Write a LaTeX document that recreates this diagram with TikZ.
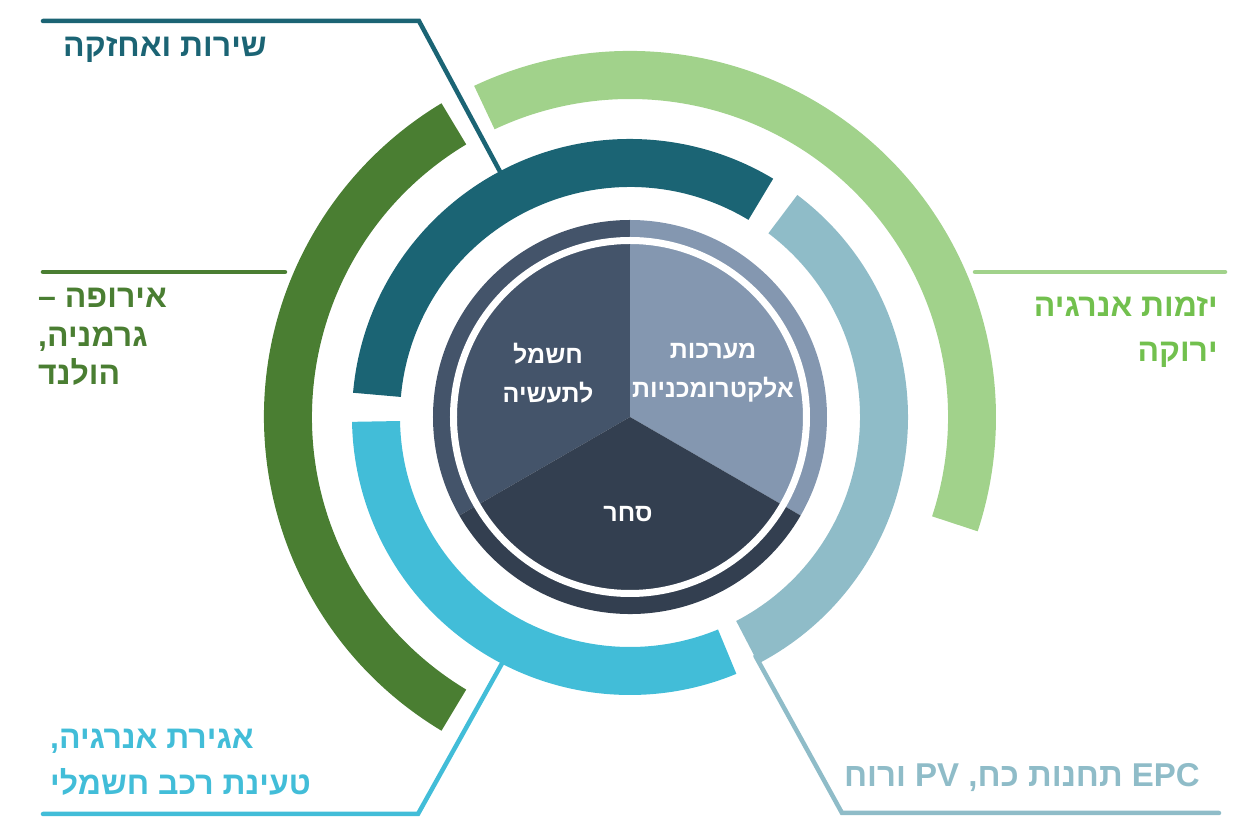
\documentclass[tikz,border=0pt]{standalone}
\usepackage{fontspec}
\setmainfont{Liberation Sans}
\newfontfamily\hebfont[Script=Hebrew]{Liberation Sans}
\TeXXeTstate=1
\usepackage{tikz}

\definecolor{tealarc}{HTML}{1B6474}
\definecolor{bluearc}{HTML}{8FBCC8}
\definecolor{cyanarc}{HTML}{42BDD8}
\definecolor{lgreenarc}{HTML}{A1D28B}
\definecolor{lgreentxt}{HTML}{72C04E}
\definecolor{dgreenarc}{HTML}{4A7E32}
\definecolor{pielight}{HTML}{8497B0}
\definecolor{piemid}{HTML}{44546A}
\definecolor{piedark}{HTML}{333F50}

% annular segment: colour, start, end, inner r, outer r
\newcommand{\ringseg}[5]{%
  \fill[#1] (#2:#4) arc[start angle=#2, end angle=#3, radius=#4]
    -- (#3:#5) arc[start angle=#3, end angle=#2, radius=#5] -- cycle;}

\begin{document}
\begin{tikzpicture}[x=1pt, y=1pt,
  lead/.style={line width=4.5pt, line cap=round},
  lbl/.style={font=\hebfont\bfseries\fontsize{32}{38.5}\selectfont, inner sep=0pt},
  pielbl/.style={font=\hebfont\bfseries\fontsize{25}{39}\selectfont, text=white,
                 align=center, inner sep=0pt}
]
  \useasboundingbox (-630,-409) rectangle (610,417);

  % leader lines
  \coordinate (tealtip) at (117.9:270);
  \coordinate (tealbend) at (-211,396);
  \coordinate (tealend) at (-587,396);
  \coordinate (dgrtip) at (-345,145);
  \coordinate (dgrend) at (-587,145);
  \coordinate (cyantip) at (242.6:270);
  \coordinate (cyanbend) at (-212,-397);
  \coordinate (cyanend) at (-587,-397);
  \coordinate (bluetip) at (-62.3:270);
  \coordinate (bluebend) at (212,-396);
  \coordinate (blueend) at (589,-396);
  \coordinate (lgrtip) at (345,145);
  \coordinate (lgrend) at (595,145);

  \draw[lead, tealarc] (tealtip) -- (tealbend) -- (tealend);
  \draw[lead, dgreenarc] (dgrtip) -- (dgrend);
  \draw[lead, cyanarc] (cyantip) -- (cyanbend) -- (cyanend);
  \draw[lead, bluearc] (bluetip) -- (bluebend) -- (blueend);
  \draw[lead, lgreenarc] (lgrtip) -- (lgrend);

  % outer ring
  \ringseg{lgreenarc}{-18.2}{115.2}{318}{366}
  \ringseg{dgreenarc}{121}{239}{318}{366}

  % middle ring
  \ringseg{tealarc}{59}{175}{230}{278}
  \ringseg{bluearc}{-62.5}{53}{230}{278}
  \ringseg{cyanarc}{181}{292.5}{230}{278}

  % pie
  \fill[pielight] (0,0) -- (90:197) arc[start angle=90, end angle=-30, radius=197] -- cycle;
  \fill[piemid] (0,0) -- (90:197) arc[start angle=90, end angle=210, radius=197] -- cycle;
  \fill[piedark] (0,0) -- (210:197) arc[start angle=210, end angle=330, radius=197] -- cycle;
  \draw[white, line width=7pt] (0,0) circle[radius=176.5];

  \node[pielbl] (elec) at (83,44) {\beginR מערכות\endR\\\beginR אלקטרומכניות\endR};
  \node[pielbl] (power) at (-82,44) {\beginR חשמל\endR\\\beginR לתעשיה\endR};
  \node[pielbl] (trade) at (-2,-97) {\beginR סחר\endR};

  % labels
  \node[lbl, text=tealarc, anchor=west] (service) at (-567,367)
    {\beginR שירות ואחזקה\endR};
  \node[lbl, text=dgreenarc, anchor=west, align=left] (europe) at (-592,80)
    {\beginR אירופה –\endR\\\beginR גרמניה,\endR\\\beginR הולנד\endR};
  \node[lbl, text=lgreentxt, anchor=east, align=right,
        font=\hebfont\bfseries\fontsize{32}{45}\selectfont] (green) at (588,85)
    {\beginR יזמות אנרגיה\endR\\\beginR ירוקה\endR};
  \node[lbl, text=cyanarc, anchor=west, align=left,
        font=\hebfont\bfseries\fontsize{32}{46}\selectfont] (storage) at (-580,-345)
    {\beginR אגירת אנרגיה,\endR\\\beginR טעינת רכב חשמלי\endR};
  \node[lbl, text=bluearc, anchor=east,
        font=\hebfont\bfseries\fontsize{33}{40}\selectfont] (epc) at (570,-361)
    {\beginR\beginL EPC\endL{} תחנות כח, \beginL PV\endL{} ורוח\endR};
\end{tikzpicture}
\end{document}
